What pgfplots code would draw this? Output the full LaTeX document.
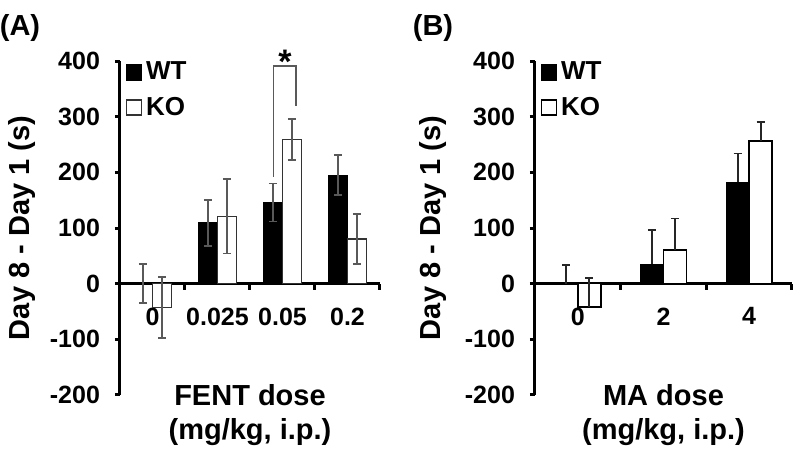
\documentclass[border=0pt]{standalone}
\usepackage{pgfplots}
\pgfplotsset{compat=1.18}
\usepackage{fontspec}
\setmainfont{Liberation Sans}
\definecolor{errc}{gray}{0.35}
\begin{document}
\begin{tikzpicture}
\path[use as bounding box] (0pt,0pt) rectangle (400pt,230pt);
\pgfplotsset{
 sqlegend/.style={legend image code/.code={\draw[##1,line width=0.8pt] (0pt,-3.75pt) rectangle (7.5pt,3.75pt);}},
 panel/.style={
  scale only axis, height=167pt,
  ymin=-200, ymax=400, ytick={-200,-100,...,400},
  axis y line=left, axis x line=middle,
  axis line style={-, line width=1.5pt},
  tick align=outside,
  major tick length=2.5pt,
  ytick style={line width=1.5pt, black},
  xtick style={draw=none},
  extra x tick style={xtick style={draw=black, line width=1.5pt}, major tick length=3pt},
  extra x tick labels={},
  tick label style={font=\fontsize{12.5}{15}\selectfont\bfseries},
  yticklabel style={xshift=-4pt},
  xticklabel style={yshift=-6pt},
  /pgf/number format/assume math mode=true,
  ybar=0pt, clip=false,
  error bars/y dir=both, error bars/y explicit,
  error bars/error bar style={line width=0.75pt, errc},
  error bars/error mark options={rotate=90, mark size=2pt, line width=0.75pt, errc},
  legend style={draw=none, fill=none, inner sep=0pt, font=\fontsize{13}{15}\selectfont\bfseries,
     row sep=3pt, /tikz/every even column/.append style={column sep=3pt}},
  legend cell align=left,
  every axis x label/.style={at={(rel axis cs:0.5,-0.06)}, anchor=center, align=center,
     font=\fontsize{14.5}{17}\selectfont\bfseries},
  every axis y label/.style={rotate=90, anchor=center, font=\fontsize{14.5}{17}\selectfont\bfseries},
 }
}
% Panel A
\begin{axis}[panel, at={(60pt,32.5pt)}, anchor=south west, width=130pt,
  xmin=-0.5, xmax=3.5, xtick={0,1,2,3}, xticklabels={0,0.025,0.05,0.2},
  extra x ticks={0.5,1.5,2.5,3.5}, bar width=9.5pt,
  ylabel={Day 8 - Day 1 (s)}, ylabel style={at={(rel axis cs:-0.377,0.5)}},
  xlabel={FENT dose\\(mg/kg, i.p.)},
  legend style={at={(rel axis cs:0.02,1.01)}, anchor=north west}]
\addplot[fill=black, draw=black, line width=0.6pt, sqlegend] table[x=x,y=y,y error=e] {
x y e
0 0 35
1 109 41
2 146 34
3 195 36
};
\addplot[fill=white, draw=black!80, line width=0.8pt, sqlegend] table[x=x,y=y,y error=e] {
x y e
0 -43 55
1 121 67
2 259 37
3 80 45
};
\legend{WT,KO}
\draw[errc, line width=0.75pt] (axis cs:1.86,192) -- (axis cs:1.86,391) -- (axis cs:2.21,391) -- (axis cs:2.21,320);
\node[font=\fontsize{17}{17}\selectfont\bfseries] at (axis cs:2.04,398) {*};
\end{axis}
% Panel B
\begin{axis}[panel, at={(267.5pt,32.5pt)}, anchor=south west, width=128.5pt,
  xmin=-0.5, xmax=2.5, xtick={0,1,2}, xticklabels={0,2,4},
  extra x ticks={0.5,1.5,2.5}, bar width=11.5pt,
  error bars/y dir=plus,
  error bars/error bar style={line width=0.9pt, black!85},
  error bars/error mark options={rotate=90, mark size=2pt, line width=0.9pt, black!85},
  ylabel={Day 8 - Day 1 (s)}, ylabel style={at={(rel axis cs:-0.397,0.5)}},
  xlabel={MA dose\\(mg/kg, i.p.)},
  legend style={at={(rel axis cs:0.02,1.01)}, anchor=north west}]
\addplot[fill=black, draw=black, line width=0.6pt, sqlegend] table[x=x,y=y,y error=e] {
x y e
0 0 33
1 35 62
2 182 52
};
\addplot[fill=white, draw=black, line width=0.8pt, sqlegend] table[x=x,y=y,y error=e] {
x y e
0 -42 52
1 60 57
2 256 35
};
\legend{WT,KO}
\end{axis}
\node[font=\fontsize{14.5}{17}\selectfont\bfseries] at (10pt,216pt) {(A)};
\node[font=\fontsize{14.5}{17}\selectfont\bfseries] at (216.5pt,216pt) {(B)};
\end{tikzpicture}
\end{document}
